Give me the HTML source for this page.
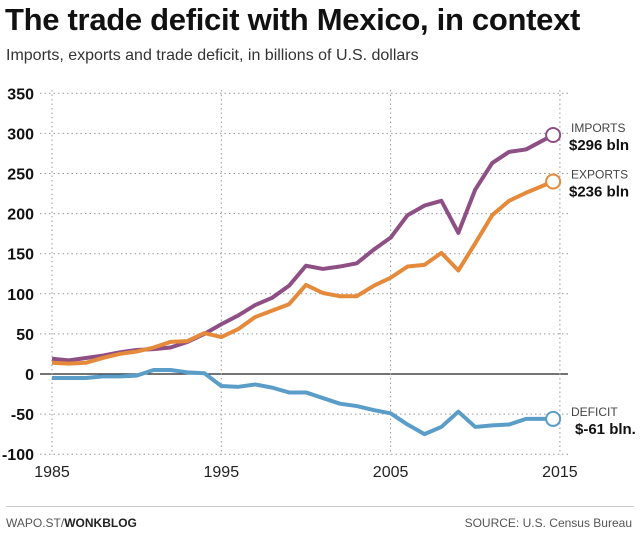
<!DOCTYPE html>
<html><head><meta charset="utf-8"><style>
body{margin:0;width:640px;height:543px;background:#fff;font-family:"Liberation Sans",sans-serif;overflow:hidden;position:relative}
.t{position:absolute;white-space:nowrap}
</style></head><body>
<div class="t" style="left:5px;top:2px;font-size:31px;font-weight:bold;color:#111;letter-spacing:-0.3px">The trade deficit with Mexico, in context</div>
<div class="t" style="left:6px;top:47px;font-size:16px;color:#333">Imports, exports and trade deficit, in billions of U.S. dollars</div>
<svg id="c" width="640" height="543" style="position:absolute;left:0;top:0"></svg>
<div style="position:absolute;left:6px;top:506px;width:628px;height:1px;background:#ccc"></div>
<div class="t" style="left:6px;top:516px;font-size:12px;color:#555">WAPO.ST/<b style="color:#222">WONKBLOG</b></div>
<div class="t" style="right:8px;top:516px;font-size:12px;color:#555">SOURCE: U.S. Census Bureau</div>
<script>
const years=[1985,1986,1987,1988,1989,1990,1991,1992,1993,1994,1995,1996,1997,1998,1999,2000,2001,2002,2003,2004,2005,2006,2007,2008,2009,2010,2011,2012,2013,2014.6];
const imports=[19,17,20,23,27,30,31,33,40,50,62,73,86,95,110,135,131,134,138,155,170,198,210,216,176,230,263,277,280,298];
const exports=[14,13,14,20,25,28,33,40,41,51,46,56,71,79,87,111,101,97,97,110,120,134,136,151,129,163,198,216,226,240];
const deficit=[-5,-5,-5,-3,-3,-2,5,5,2,1,-15,-16,-13,-17,-23,-23,-30,-37,-40,-45,-49,-63,-75,-66,-47,-66,-64,-63,-56,-56];
const yTicks=[350,300,250,200,150,100,50,0,-50,-100];
const xTicks=[1985,1995,2005,2015];
const labels=[["IMPORTS","$296 bln"],["EXPORTS","$236 bln"],["DEFICIT","$-61 bln."]];
const X=y=>52+(y-1985)*16.93, Y=v=>374-v*0.802;
const s=document.getElementById('c'),NS='http://www.w3.org/2000/svg';
function mk(t,a,txt){const e=document.createElementNS(NS,t);for(const k in a)e.setAttribute(k,a[k]);if(txt!=null)e.textContent=txt;s.appendChild(e);return e;}
yTicks.forEach(v=>{
 const l=mk('line',{x1:40,x2:568,y1:Y(v),y2:Y(v),stroke:v===0?'#222':'#999','stroke-width':v===0?1.3:1,'stroke-dasharray':v===0?'':'1.5,3'});
 
 
 const t=mk('text',{x:34,y:Y(v)+6,'text-anchor':'end','font-size':16,'font-weight':'bold',fill:'#111'},v);
 
 
});
xTicks.forEach(yr=>{
 const l=mk('line',{x1:X(yr),x2:X(yr),y1:90,y2:455,stroke:'#999','stroke-dasharray':'1.5,3'});
 
 
 const t=mk('text',{x:X(yr),y:477,'text-anchor':'middle','font-size':16,fill:'#222'},yr);
 
 
});
const series=[[imports,'#8e4f85','imports'],[exports,'#e58a3a','exports'],[deficit,'#5b9dc9','deficit']];
series.forEach(([d,c,n],i)=>{
 const p=mk('polyline',{points:d.map((v,j)=>X(years[j])+','+Y(v)).join(' '),fill:'none',stroke:c,'stroke-width':4,'stroke-linejoin':'round'});
 
 
 const lv=d[d.length-1],lx=X(years[years.length-1]);
 const ci=mk('circle',{cx:lx,cy:Y(lv),r:7,fill:'#fff',stroke:c,'stroke-width':2});
 
 
 const t1=mk('text',{x:571,y:Y(lv)-3,'font-size':12,fill:'#444'},labels[i][0]);
 
 
 const t2=mk('text',{x:i==2?575:569,y:Y(lv)+15,'font-size':15,'font-weight':'bold',fill:'#111'},labels[i][1]);
 
 
});
</script>
</body></html>
